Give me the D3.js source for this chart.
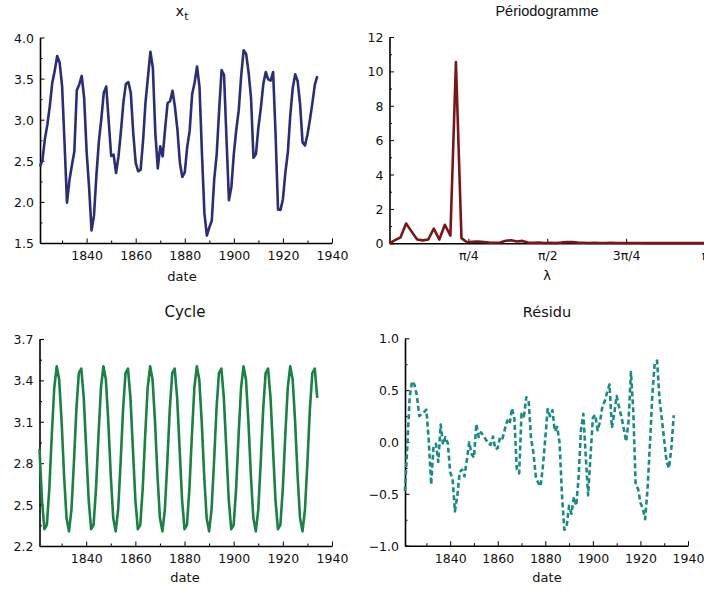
<!DOCTYPE html>
<html>
<head>
<meta charset="utf-8">
<script src="https://cdn.jsdelivr.net/npm/d3@7"></script>
<style>
  body { margin: 0; background: #fff; }
  text { font-family: "DejaVu Sans", sans-serif; fill: #111; }
</style>
</head>
<body>
<div id="chart"></div>
<script>
// years of the series (1821 .. 1934)
const years = d3.range(1821, 1935);

// log10 of the lynx trappings
const logLynx = [
  2.430, 2.507, 2.767, 2.940, 3.169, 3.450, 3.594, 3.774, 3.695, 3.411,
  2.719, 1.991, 2.265, 2.446, 2.612, 3.359, 3.429, 3.533, 3.261, 2.612,
  2.179, 1.653, 1.833, 2.328, 2.737, 3.014, 3.328, 3.404, 2.981, 2.558,
  2.576, 2.352, 2.556, 2.864, 3.214, 3.435, 3.458, 3.326, 2.835, 2.476,
  2.373, 2.389, 2.742, 3.210, 3.520, 3.827, 3.629, 2.837, 2.407, 2.675,
  2.554, 2.894, 3.203, 3.224, 3.352, 3.154, 2.879, 2.476, 2.303, 2.360,
  2.671, 2.867, 3.310, 3.449, 3.647, 3.400, 2.590, 1.863, 1.591, 1.690,
  1.771, 2.274, 2.576, 3.111, 3.605, 3.544, 2.769, 2.021, 2.185, 2.588,
  2.880, 3.116, 3.540, 3.845, 3.800, 3.579, 3.264, 2.538, 2.582, 2.907,
  3.142, 3.434, 3.580, 3.490, 3.475, 3.579, 2.829, 1.909, 1.903, 2.033,
  2.360, 2.601, 3.054, 3.386, 3.553, 3.468, 3.187, 2.724, 2.686, 2.821,
  3.000, 3.201, 3.424, 3.531
];

// fitted cycle
const cycle = [
  2.904, 2.535, 2.322, 2.354, 2.618, 3.003, 3.345, 3.502, 3.406, 3.099, 2.709, 2.402, 2.306, 2.463, 2.805, 3.190, 3.453, 3.486, 3.273,
  2.904, 2.535, 2.322, 2.354, 2.618, 3.003, 3.345, 3.502, 3.406, 3.099, 2.709, 2.402, 2.306, 2.463, 2.805, 3.190, 3.453, 3.486, 3.273,
  2.904, 2.535, 2.322, 2.354, 2.618, 3.003, 3.345, 3.502, 3.406, 3.099, 2.709, 2.402, 2.306, 2.463, 2.805, 3.190, 3.453, 3.486, 3.273,
  2.904, 2.535, 2.322, 2.354, 2.618, 3.003, 3.345, 3.502, 3.406, 3.099, 2.709, 2.402, 2.306, 2.463, 2.805, 3.190, 3.453, 3.486, 3.273,
  2.904, 2.535, 2.322, 2.354, 2.618, 3.003, 3.345, 3.502, 3.406, 3.099, 2.709, 2.402, 2.306, 2.463, 2.805, 3.190, 3.453, 3.486, 3.273,
  2.904, 2.535, 2.322, 2.354, 2.618, 3.003, 3.345, 3.502, 3.406, 3.099, 2.709, 2.402, 2.306, 2.463, 2.805, 3.190, 3.453, 3.486, 3.273
];

// residual after removing the cycle
const residu = [
  -0.474, -0.028, 0.445, 0.586, 0.551, 0.447, 0.249, 0.272, 0.289, 0.312,
  0.010, -0.411, -0.041, -0.017, -0.193, 0.169, -0.024, 0.047, -0.012,
  -0.292, -0.356, -0.669, -0.521, -0.290, -0.266, -0.331, -0.174, -0.002, -0.118,
  -0.151, 0.174, 0.046, 0.093, 0.059, 0.024, -0.018, -0.028, 0.053,
  -0.069, -0.059, 0.051, 0.035, 0.124, 0.207, 0.175, 0.325, 0.223, -0.262,
  -0.302, 0.273, 0.248, 0.431, 0.398, 0.034, -0.101, -0.332, -0.394,
  -0.428, -0.232, 0.038, 0.317, 0.249, 0.307, 0.104, 0.145, -0.006, -0.509,
  -0.846, -0.811, -0.616, -0.692, -0.531, -0.614, -0.342, 0.119, 0.271,
  -0.135, -0.514, -0.137, 0.234, 0.262, 0.113, 0.195, 0.343, 0.394, 0.480,
  0.555, 0.136, 0.276, 0.444, 0.337, 0.244, 0.127, 0.004, 0.202,
  0.675, 0.294, -0.413, -0.451, -0.585, -0.643, -0.744, -0.448, -0.020, 0.454,
  0.759, 0.785, 0.418, 0.223, 0.016, -0.190, -0.252, -0.062, 0.258
];

// periodogram ordinates at Fourier frequencies k = 0 .. 57
const periodo = [
  0, 0.18, 0.35, 1.15, 0.68, 0.22, 0.17, 0.22, 0.85, 0.22,
  1.08, 0.45, 10.55, 0.30, 0.06, 0.09, 0.10, 0.08, 0.04, 0.03,
  0.05, 0.15, 0.18, 0.10, 0.14, 0.04, 0.03, 0.05, 0.02, 0.03,
  0.02, 0.04, 0.08, 0.07, 0.04, 0.03, 0.02, 0.03, 0.02, 0.02,
  0.03, 0.02, 0.02, 0.01, 0.02, 0.02, 0.01, 0.02, 0.01, 0.02,
  0.01, 0.01, 0.02, 0.01, 0.01, 0.01, 0.01, 0.01
];
const nObs = 114;

const yearTicks = [1840, 1860, 1880, 1900, 1920, 1940];
const yearMinor = [1830, 1850, 1870, 1890, 1910, 1930];
const lambdaTicks = [Math.PI / 4, Math.PI / 2, 3 * Math.PI / 4, Math.PI];
const lambdaLabels = ["π/4", "π/2", "3π/4", "π"];

const svg = d3.select("#chart").append("svg")
  .attr("width", 704)
  .attr("height", 590);

//draws one panel: axes crossing at bottom-left, ticks pointing inward
function panel(opt) {
  const g = svg.append("g");
  const x = d3.scaleLinear().domain(opt.xDomain).range(opt.xRange);
  const y = d3.scaleLinear().domain(opt.yDomain).range(opt.yRange);

  // minor ticks
  g.append("g")
    .attr("transform", "translate(0," + opt.yRange[0] + ")")
    .call(d3.axisBottom(x).tickValues(opt.xMinor).tickSizeInner(-2.5).tickSizeOuter(0).tickFormat(""))
    .call(a => a.select(".domain").remove());
  g.append("g")
    .attr("transform", "translate(" + opt.xRange[0] + ",0)")
    .call(d3.axisLeft(y).tickValues(opt.yMinor).tickSizeInner(-2.5).tickSizeOuter(0).tickFormat(""))
    .call(a => a.select(".domain").remove());

  // major ticks + axis lines
  const xa = g.append("g")
    .attr("transform", "translate(0," + opt.yRange[0] + ")")
    .call(d3.axisBottom(x).tickValues(opt.xTicks).tickSizeInner(-4.5).tickSizeOuter(0)
      .tickPadding(8).tickFormat(opt.xFormat));
  const ya = g.append("g")
    .attr("transform", "translate(" + opt.xRange[0] + ",0)")
    .call(d3.axisLeft(y).tickValues(opt.yTicks).tickSizeInner(-4.5).tickSizeOuter(0)
      .tickPadding(6).tickFormat(opt.yFormat));

  g.selectAll(".tick line").attr("stroke", "#000").attr("stroke-width", 1);
  [xa, ya].forEach(a => {
    a.select(".domain").attr("stroke", "#000").attr("stroke-width", 1.6);
    a.selectAll("text").attr("font-size", 12.5).attr("fill", "#111")
      .style("font-family", "'DejaVu Sans', sans-serif");
  });
  ya.selectAll("text").attr("dy", "0.36em");

  const line = d3.line()
    .x((d, i) => x(opt.xs[i]))
    .y(d => y(d));

  g.append("path")
    .datum(opt.values)
    .attr("fill", "none")
    .attr("stroke", opt.color)
    .attr("stroke-width", 2.6)
    .attr("stroke-linejoin", "round")
    .attr("stroke-dasharray", opt.dash || null)
    .attr("d", line);

  // titles
  const cx = opt.titleX;
  const t = g.append("text")
    .attr("x", cx)
    .attr("y", opt.titleY)
    .attr("text-anchor", "middle")
    .attr("font-size", opt.titleSize || 14.5);
  if (opt.titleFont) t.style("font-family", opt.titleFont);
  if (opt.title === "x_t") {
    t.append("tspan").text("x");
    t.append("tspan").attr("dy", 4).attr("font-size", 11).text("t");
  } else {
    t.text(opt.title);
  }

  g.append("text")
    .attr("x", cx)
    .attr("y", opt.labelY)
    .attr("text-anchor", "middle")
    .attr("font-size", 13)
    .text(opt.xLabel);
}

// x_t
panel({
  xs: years, values: logLynx, color: "#2b2d78",
  xDomain: [1821, 1940], xRange: [40, 332],
  yDomain: [1.5, 4.0], yRange: [243, 37.5],
  xTicks: yearTicks, xMinor: yearMinor, xFormat: d3.format("d"),
  yTicks: [1.5, 2.0, 2.5, 3.0, 3.5, 4.0], yMinor: [1.75, 2.25, 2.75, 3.25, 3.75],
  yFormat: d3.format(".1f"),
  title: "x_t", titleX: 182, titleY: 16, xLabel: "date", labelY: 281
});

// Périodogramme
panel({
  xs: periodo.map((d, k) => 2 * Math.PI * k / nObs), values: periodo, color: "#7b1518",
  xDomain: [0, Math.PI], xRange: [389.5, 705],
  yDomain: [0, 12], yRange: [243.3, 37],
  xTicks: lambdaTicks, xMinor: [], xFormat: (d, i) => lambdaLabels[i],
  yTicks: [0, 2, 4, 6, 8, 10, 12], yMinor: [1, 3, 5, 7, 9, 11],
  yFormat: d3.format("d"),
  title: "Périodogramme", titleSize: 14.5, titleFont: "'Liberation Sans', Arial, sans-serif",
  titleX: 547, titleY: 16, xLabel: "λ", labelY: 280
});

// Cycle
panel({
  xs: years, values: cycle, color: "#1a8144",
  xDomain: [1821, 1940], xRange: [39.5, 332],
  yDomain: [2.2, 3.7], yRange: [546, 339],
  xTicks: yearTicks, xMinor: yearMinor, xFormat: d3.format("d"),
  yTicks: [2.2, 2.5, 2.8, 3.1, 3.4, 3.7], yMinor: [2.35, 2.65, 2.95, 3.25, 3.55],
  yFormat: d3.format(".1f"),
  title: "Cycle", titleSize: 15, titleX: 185, titleY: 317, xLabel: "date", labelY: 582
});

// Résidu
panel({
  xs: years, values: residu, color: "#1a8a84", dash: "5,3",
  xDomain: [1821, 1940], xRange: [405, 688],
  yDomain: [-1.0, 1.0], yRange: [545.7, 338.3],
  xTicks: yearTicks, xMinor: yearMinor, xFormat: d3.format("d"),
  yTicks: [-1.0, -0.5, 0.0, 0.5, 1.0], yMinor: [-0.75, -0.25, 0.25, 0.75],
  yFormat: d3.format(".1f"),
  title: "Résidu", titleX: 547, titleY: 317, xLabel: "date", labelY: 582
});
</script>
</body>
</html>
